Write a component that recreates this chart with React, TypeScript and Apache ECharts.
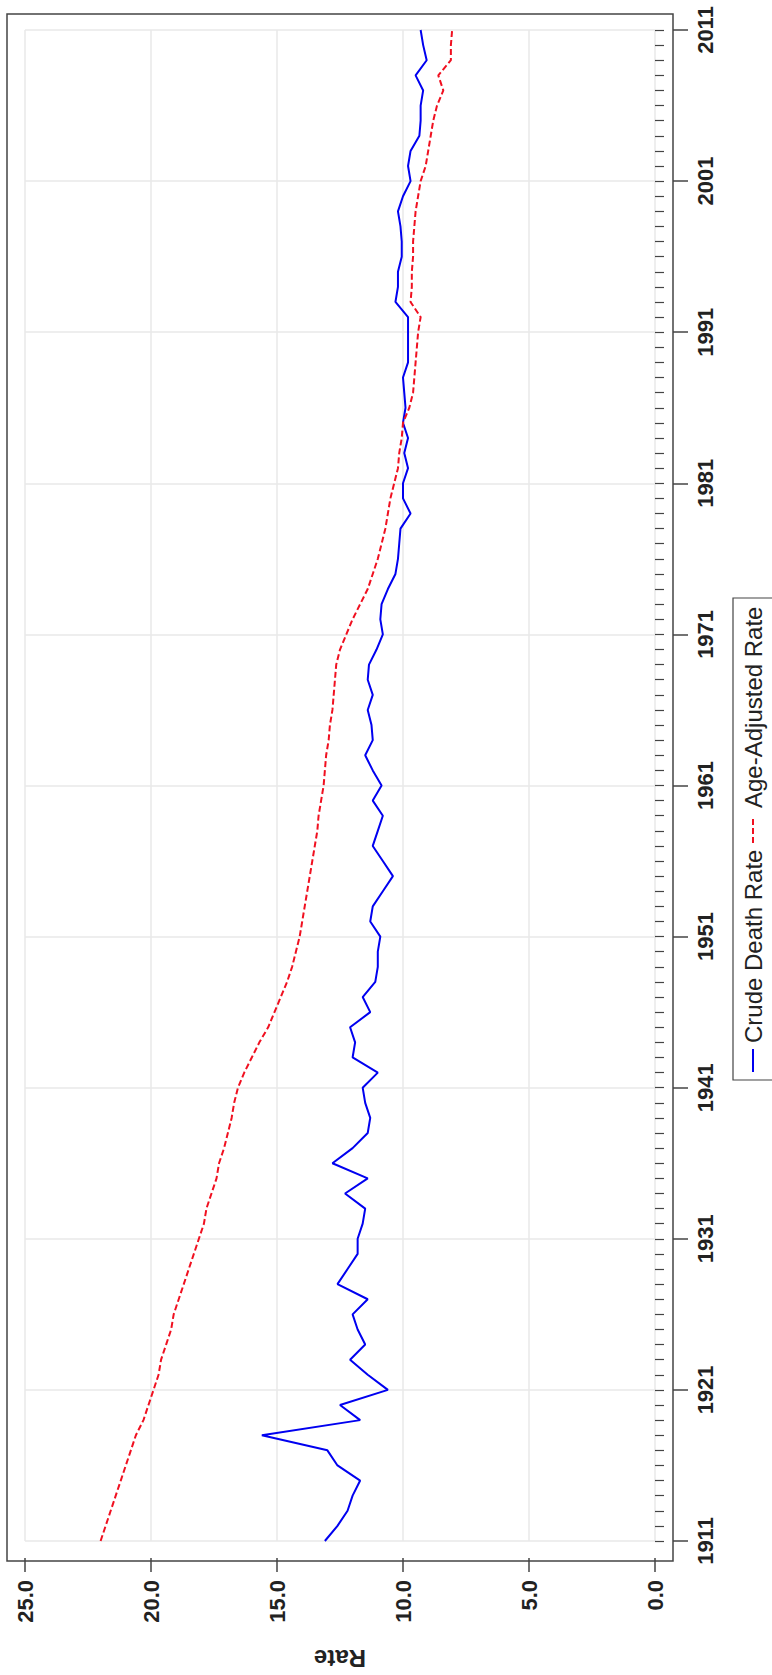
import React, { useEffect, useRef } from "react";
import * as echarts from "echarts";

// Years 1911..2011 (category axis, bottom to top)
const years: string[] = [];
for (let y = 1911; y <= 2011; y++) years.push(String(y));

const crudeDeathRate: number[] = [
  // 1911-1920
  13.1, 12.6, 12.2, 12.0, 11.7, 12.6, 13.0, 15.6, 11.7, 12.5,
  // 1921-1930
  10.6, 11.4, 12.1, 11.5, 11.8, 12.0, 11.4, 12.6, 12.2, 11.8,
  // 1931-1940
  11.8, 11.6, 11.5, 12.3, 11.4, 12.8, 12.0, 11.4, 11.3, 11.5,
  // 1941-1950
  11.6, 11.0, 12.0, 11.9, 12.1, 11.3, 11.6, 11.1, 11.0, 11.0,
  // 1951-1960
  10.9, 11.3, 11.2, 10.8, 10.4, 10.8, 11.2, 11.0, 10.8, 11.2,
  // 1961-1970
  10.85, 11.2, 11.5, 11.2, 11.25, 11.4, 11.2, 11.4, 11.35, 11.05,
  // 1971-1980
  10.8, 10.9, 10.85, 10.6, 10.3, 10.2, 10.15, 10.1, 9.7, 10.0,
  // 1981-1990
  10.0, 9.8, 9.95, 9.8, 10.0, 9.9, 9.95, 10.0, 9.8, 9.8,
  // 1991-2000
  9.8, 9.8, 10.3, 10.2, 10.2, 10.05, 10.05, 10.1, 10.2, 10.0,
  // 2001-2010
  9.7, 9.8, 9.7, 9.35, 9.3, 9.3, 9.2, 9.5, 9.06, 9.2,
  // 2011
  9.3,
];

const ageAdjustedRate: number[] = [
  // 1911-1920
  22.0, 21.8, 21.6, 21.4, 21.2, 21.0, 20.8, 20.6, 20.3, 20.1,
  // 1921-1930
  19.9, 19.7, 19.6, 19.4, 19.2, 19.1, 18.9, 18.7, 18.5, 18.3,
  // 1931-1940
  18.1, 17.9, 17.8, 17.6, 17.4, 17.3, 17.1, 16.95, 16.8, 16.7,
  // 1941-1950
  16.55, 16.3, 16.0, 15.7, 15.35, 15.1, 14.85, 14.6, 14.4, 14.25,
  // 1951-1960
  14.1, 14.0, 13.9, 13.8, 13.7, 13.6, 13.5, 13.4, 13.35, 13.25,
  // 1961-1970
  13.15, 13.1, 13.05, 12.95, 12.9, 12.8, 12.75, 12.7, 12.65, 12.5,
  // 1971-1980
  12.25, 12.0, 11.7, 11.4, 11.2, 11.0, 10.85, 10.7, 10.6, 10.5,
  // 1981-1990
  10.35, 10.2, 10.15, 10.05, 10.0, 9.75, 9.6, 9.55, 9.5, 9.45,
  // 1991-2000
  9.4, 9.3, 9.7, 9.65, 9.65, 9.6, 9.6, 9.55, 9.5, 9.4,
  // 2001-2010
  9.3, 9.1, 9.0, 8.9, 8.8, 8.65, 8.4, 8.6, 8.1, 8.1,
  // 2011
  8.05,
];

const seriesNames = ["Crude Death Rate", "Age-Adjusted Rate"];
const rateMin = 0;
const rateMax = 25;
const rateStep = 5;

const FONT = "'Liberation Sans', Arial, Helvetica, sans-serif";
const BLUE = "#0000f0";
const RED = "#f01020";
const AXIS_COLOR = "#444";
const GRID_COLOR = "#e9e9e9";

export default function App() {
  const ref = useRef<HTMLDivElement>(null);

  useEffect(() => {
    if (!ref.current) return;
    const chart = echarts.init(ref.current, undefined, { renderer: "svg" });

    const option: any = {
      animation: false,
      backgroundColor: "#ffffff",
      textStyle: { fontFamily: FONT },
      grid: { left: 25, right: 117, top: 30, bottom: 131, containLabel: false },
      xAxis: {
        type: "value",
        position: "bottom",
        inverse: true,
        min: rateMin,
        max: rateMax,
        interval: rateStep,
        offset: 17,
        axisLine: { show: false },
        axisTick: { show: true, length: 14, lineStyle: { color: AXIS_COLOR, width: 1.5 } },
        axisLabel: {
          rotate: 90,
          margin: 22,
          fontSize: 22,
          fontWeight: "bold",
          color: "#222",
          fontFamily: FONT,
          formatter: (v: number) => v.toFixed(1),
        },
        splitLine: { show: true, lineStyle: { color: GRID_COLOR, width: 1.5 } },
        name: "Rate",
        nameLocation: "middle",
        nameRotate: 180,
        nameGap: 88,
        nameTextStyle: { fontSize: 24, fontWeight: "bold", color: "#222", fontFamily: FONT },
      },
      yAxis: [
        {
          type: "category",
          data: years,
          position: "right",
          boundaryGap: false,
          offset: 18,
          axisLine: { show: false },
          axisTick: { show: true, interval: 0, length: 9, lineStyle: { color: AXIS_COLOR, width: 1.2 } },
          axisLabel: { show: false },
          splitLine: { show: false },
        },
        {
          type: "category",
          data: years,
          position: "right",
          boundaryGap: false,
          offset: 18,
          axisLine: { show: false },
          axisTick: { show: true, interval: 9, length: 15, lineStyle: { color: AXIS_COLOR, width: 1.5 } },
          axisLabel: {
            interval: 9,
            rotate: 90,
            margin: 21,
            fontSize: 22,
            fontWeight: "bold",
            color: "#222",
            fontFamily: FONT,
          },
          splitLine: { show: true, interval: 9, lineStyle: { color: GRID_COLOR, width: 1.5 } },
        },
      ],
      series: [
        {
          name: seriesNames[0],
          type: "line",
          yAxisIndex: 0,
          data: crudeDeathRate,
          symbol: "none",
          lineStyle: { color: BLUE, width: 2 },
          z: 3,
        },
        {
          name: seriesNames[1],
          type: "line",
          yAxisIndex: 0,
          data: ageAdjustedRate,
          symbol: "none",
          lineStyle: { color: RED, width: 2, type: [6, 3] },
          z: 4,
        },
      ],
      graphic: [
        {
          type: "rect",
          silent: true,
          shape: { x: 7, y: 14, width: 666, height: 1547 },
          style: { fill: "none", stroke: AXIS_COLOR, lineWidth: 1.5 },
          z: 10,
        },
        {
          type: "rect",
          silent: true,
          shape: { x: 733, y: 598, width: 42, height: 482 },
          style: { fill: "#fff", stroke: AXIS_COLOR, lineWidth: 1.2 },
          z: 10,
        },
        {
          type: "line",
          silent: true,
          shape: { x1: 753, y1: 1072, x2: 753, y2: 1049 },
          style: { stroke: BLUE, lineWidth: 2 },
          z: 11,
        },
        {
          type: "text",
          silent: true,
          x: 753,
          y: 1043,
          rotation: Math.PI / 2,
          style: {
            text: seriesNames[0],
            fontSize: 24,
            fontFamily: FONT,
            fill: "#222",
            align: "left",
            verticalAlign: "middle",
          },
          z: 11,
        },
        {
          type: "line",
          silent: true,
          shape: { x1: 753, y1: 843, x2: 753, y2: 816 },
          style: { stroke: RED, lineWidth: 2, lineDash: [6, 3] },
          z: 11,
        },
        {
          type: "text",
          silent: true,
          x: 753,
          y: 808,
          rotation: Math.PI / 2,
          style: {
            text: seriesNames[1],
            fontSize: 24,
            fontFamily: FONT,
            fill: "#222",
            align: "left",
            verticalAlign: "middle",
          },
          z: 11,
        },
      ],
    };

    chart.setOption(option);
    return () => {
      chart.dispose();
    };
  }, []);

  return (
    <div
      ref={ref}
      style={{ position: "absolute", left: 0, top: 0, width: 772, height: 1675, background: "#fff" }}
    />
  );
}
